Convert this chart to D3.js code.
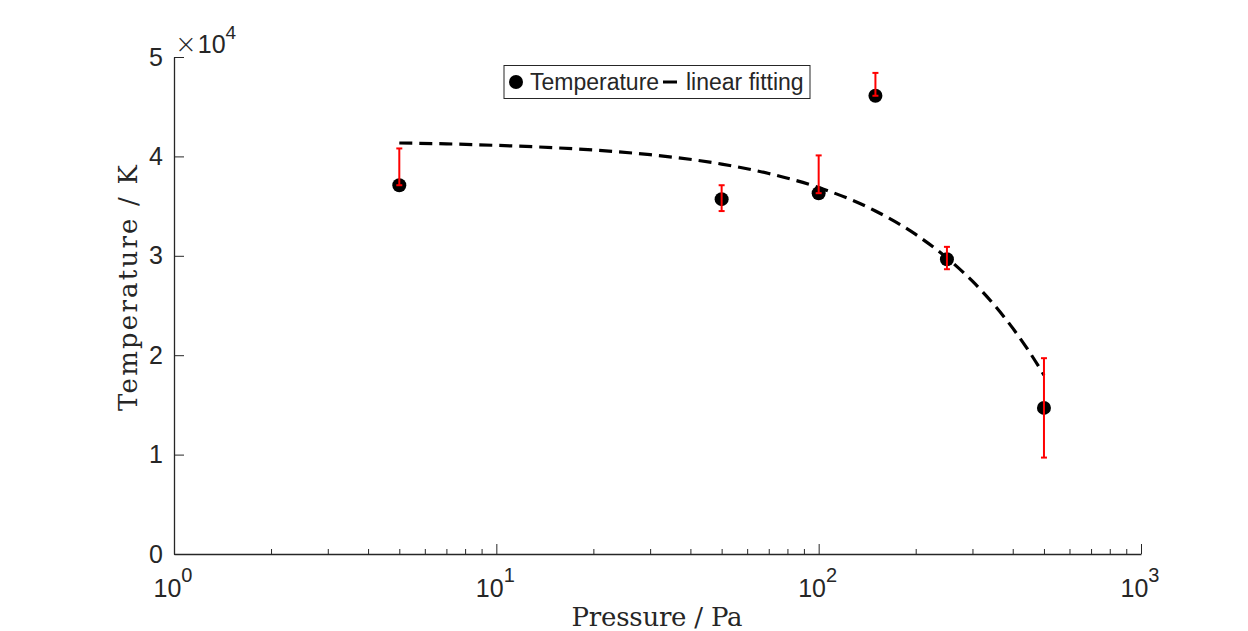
<!DOCTYPE html>
<html>
<head>
<meta charset="utf-8">
<script src="https://cdn.jsdelivr.net/npm/d3@7"></script>
<style>
  body { margin: 0; background: #fff; }
  text { fill: #262626; }
</style>
</head>
<body>
<script>
var width = 1248;
var height = 631;

// measured points
var pressure = [5, 50, 100, 150, 250, 500];
var temperature = [37100, 35700, 36300, 46100, 29650, 14700];
var errUpper = [3700, 1400, 3800, 2300, 1250, 5000];
var errLower = [0, 1200, 0, 0, 1000, 5000];

// fitted curve
var fitPressure = [5, 7, 10, 15, 20, 30, 50, 70, 100, 150, 200, 250, 300, 350, 400, 450, 500];
var fitTemperature = [41350, 41260, 41110, 40880, 40640, 40170, 39230, 38280, 36870, 34510, 32150, 29790, 27440, 25080, 22720, 20360, 18000];

var xTicks = [1, 10, 100, 1000];
var xTickExp = ["0", "1", "2", "3"];
var yTicks = [0, 10000, 20000, 30000, 40000, 50000];

var svg = d3.select('body').append('svg')
  .attr('width', width)
  .attr('height', height);

var x = d3.scaleLog().domain([1, 1000]).range([174, 1141]);
var y = d3.scaleLinear().domain([0, 50000]).range([554, 57]);

// minor ticks 1..9 per decade
var minor = [];
xTicks.forEach(function(d) {
  if (d < 1000) for (var k = 1; k < 10; k++) minor.push(d * k);
});
minor.push(1000);

var xAxis = svg.append('g')
  .attr('transform', 'translate(0,554)')
  .call(d3.axisBottom(x).tickValues(minor).tickSizeOuter(0).tickSizeInner(-10).tickFormat(''));

xAxis.select('.domain').attr('stroke', '#262626').attr('stroke-width', 1.3);
xAxis.selectAll('.tick line')
  .attr('stroke', '#262626')
  .attr('y2', function(d) { return xTicks.indexOf(d) >= 0 ? -10 : -5; });

var xLab = svg.append('g').selectAll('text')
  .data(xTicks)
  .enter().append('text')
  .attr('x', function(d) { return x(d) - 1; })
  .attr('y', 597)
  .attr('text-anchor', 'middle')
  .style('font-family', 'Liberation Sans, Arial, sans-serif')
  .style('font-size', '25px');
xLab.append('tspan').text('10');
xLab.append('tspan')
  .attr('dy', -15)
  .style('font-size', '20px')
  .text(function(d, i) { return xTickExp[i]; });

var yAxis = svg.append('g')
  .attr('transform', 'translate(174,0)')
  .call(d3.axisLeft(y).tickValues(yTicks).tickSizeOuter(0).tickSizeInner(-10).tickPadding(11)
    .tickFormat(function(d) { return d / 10000; }));

yAxis.select('.domain').attr('stroke', '#262626').attr('stroke-width', 1.3);
yAxis.selectAll('.tick line').attr('stroke', '#262626');
yAxis.selectAll('.tick text')
  .style('font-family', 'Liberation Sans, Arial, sans-serif')
  .style('font-size', '25px')
  .attr('fill', '#262626');

// exponent label
var expLab = svg.append('text')
  .attr('x', 175)
  .attr('y', 53)
  .style('font-family', 'Liberation Sans, Arial, sans-serif')
  .style('font-size', '25px');
expLab.append('tspan').style('font-size', '26px').style('font-family', 'DejaVu Sans, sans-serif')
  .style('font-weight', 200).text('\u00d7');
expLab.append('tspan').attr('dx', 1).text('10');
expLab.append('tspan').attr('dy', -14).style('font-size', '19px').text('4');

// axis titles
svg.append('text')
  .attr('x', 657)
  .attr('y', 626)
  .attr('text-anchor', 'middle')
  .style('font-family', 'DejaVu Serif, serif')
  .style('font-size', '26px')
  .attr('textLength', 171)
  .text('Pressure / Pa');

svg.append('text')
  .attr('transform', 'translate(137,288) rotate(-90)')
  .attr('text-anchor', 'middle')
  .style('font-family', 'DejaVu Serif, serif')
  .style('font-size', '26px')
  .attr('textLength', 246)
  .text('Temperature / K');

// fit line
var line = d3.line()
  .x(function(d, i) { return x(fitPressure[i]); })
  .y(function(d) { return y(d); })
  .curve(d3.curveMonotoneX);

svg.append('path')
  .attr('d', line(fitTemperature))
  .attr('fill', 'none')
  .attr('stroke', '#000')
  .attr('stroke-width', 3.2)
  .attr('stroke-dasharray', '13,7');

// points
svg.append('g').selectAll('circle')
  .data(temperature)
  .enter().append('circle')
  .attr('cx', function(d, i) { return x(pressure[i]); })
  .attr('cy', function(d) { return y(d); })
  .attr('r', 7)
  .attr('fill', '#000');

// error bars
var eb = svg.append('g').attr('stroke', '#ff0000').attr('stroke-width', 2);
temperature.forEach(function(t, i) {
  var cx = x(pressure[i]);
  var top = y(t + errUpper[i]);
  var bot = y(t - errLower[i]);
  eb.append('line').attr('x1', cx).attr('x2', cx).attr('y1', top).attr('y2', bot);
  eb.append('line').attr('x1', cx - 3).attr('x2', cx + 3).attr('y1', top).attr('y2', top);
  eb.append('line').attr('x1', cx - 3).attr('x2', cx + 3).attr('y1', bot).attr('y2', bot);
});

// legend
var lg = svg.append('g');
lg.append('rect')
  .attr('x', 504).attr('y', 65.5)
  .attr('width', 306).attr('height', 33)
  .attr('fill', '#fff')
  .attr('stroke', '#262626')
  .attr('stroke-width', 1);
lg.append('circle').attr('cx', 516).attr('cy', 82).attr('r', 7).attr('fill', '#000');
lg.append('text')
  .attr('x', 530).attr('y', 90)
  .style('font-family', 'Liberation Sans, Arial, sans-serif')
  .style('font-size', '23px')
  .attr('fill', '#000')
  .text('Temperature');
lg.append('line')
  .attr('x1', 663).attr('x2', 677).attr('y1', 82).attr('y2', 82)
  .attr('stroke', '#000').attr('stroke-width', 3);
lg.append('text')
  .attr('x', 686).attr('y', 90)
  .style('font-family', 'Liberation Sans, Arial, sans-serif')
  .style('font-size', '23px')
  .attr('fill', '#000')
  .text('linear fitting');
</script>
</body>
</html>
